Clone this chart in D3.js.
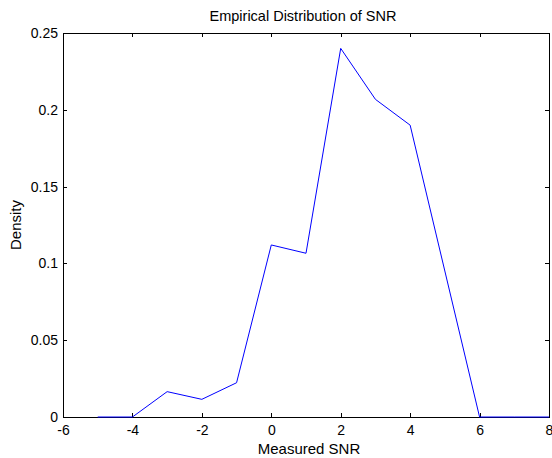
<!DOCTYPE html>
<html>
<head>
<meta charset="utf-8">
<script src="https://cdn.jsdelivr.net/npm/d3@7"></script>
<style>
  body { margin: 0; background: #fff; }
  svg { display: block; font-family: "Liberation Sans", Arial, sans-serif; }
  .tick text { font-size: 14px; fill: #000; }
  .label { font-size: 15px; fill: #000; }
  .title { font-size: 14.5px; fill: #000; }
</style>
</head>
<body>
<svg id="chart" width="552" height="458"></svg>
<script>
// measured SNR bins and their empirical density
var snr = [-5, -4, -3, -2, -1, 0, 1, 2, 3, 4, 6, 7, 8];
var density = [0, 0, 0.0165, 0.0115, 0.0223, 0.112, 0.1066, 0.240, 0.2068, 0.190, 0, 0, 0];
var xTicks = [-6, -4, -2, 0, 2, 4, 6, 8];
var yTicks = [0, 0.05, 0.1, 0.15, 0.2, 0.25];

const svg = d3.select('#chart');
const mLeft = 63, mTop = 33, mRight = 549, mBottom = 417;
const width = mRight - mLeft, height = mBottom - mTop;

const chart = svg.append('g')
  .attr('transform', `translate(${mLeft}, ${mTop})`);

const xScale = d3.scaleLinear().domain([-6, 8]).range([0, width]);
const yScale = d3.scaleLinear().domain([0, 0.25]).range([height, 0]);

// box
chart.append('rect')
  .attr('x', 0).attr('y', 0)
  .attr('width', width).attr('height', height)
  .attr('fill', 'none').attr('stroke', '#000').attr('stroke-width', 1)
  .attr('shape-rendering', 'crispEdges');

// axes, ticks pointing inward (matlab style)
const xAxis = chart.append('g')
  .attr('transform', `translate(0, ${height})`)
  .call(d3.axisBottom(xScale).tickValues(xTicks).tickSize(-4).tickPadding(8).tickFormat(d => String(d)));

chart.append('g')
  .call(d3.axisTop(xScale).tickValues(xTicks).tickSize(-4).tickFormat(''));

const yAxis = chart.append('g')
  .call(d3.axisLeft(yScale).tickValues(yTicks).tickSize(-4).tickPadding(5).tickFormat(d => String(d)));

chart.append('g')
  .attr('transform', `translate(${width}, 0)`)
  .call(d3.axisRight(yScale).tickValues(yTicks).tickSize(-4).tickFormat(''));

chart.selectAll('.domain').remove();
chart.selectAll('.tick line').attr('stroke', '#000').attr('shape-rendering', 'crispEdges');
xAxis.selectAll('.tick text').attr('dy', '0.71em');

// density line
const line = d3.line()
  .x((d, i) => xScale(snr[i]))
  .y(d => yScale(d));

chart.append('path')
  .datum(density)
  .attr('fill', 'none')
  .attr('stroke', '#0000ff')
  .attr('stroke-width', 1)
  .attr('d', line);

svg.append('text')
  .attr('class', 'title')
  .attr('x', mLeft + width / 2 - 3)
  .attr('y', 21)
  .attr('text-anchor', 'middle')
  .text('Empirical Distribution of SNR');

svg.append('text')
  .attr('class', 'label')
  .attr('x', mLeft + width / 2 + 3)
  .attr('y', 454)
  .attr('text-anchor', 'middle')
  .text('Measured SNR');

svg.append('text')
  .attr('class', 'label')
  .attr('transform', `translate(21, ${mTop + height / 2}) rotate(-90)`)
  .attr('text-anchor', 'middle')
  .text('Density');
</script>
</body>
</html>
